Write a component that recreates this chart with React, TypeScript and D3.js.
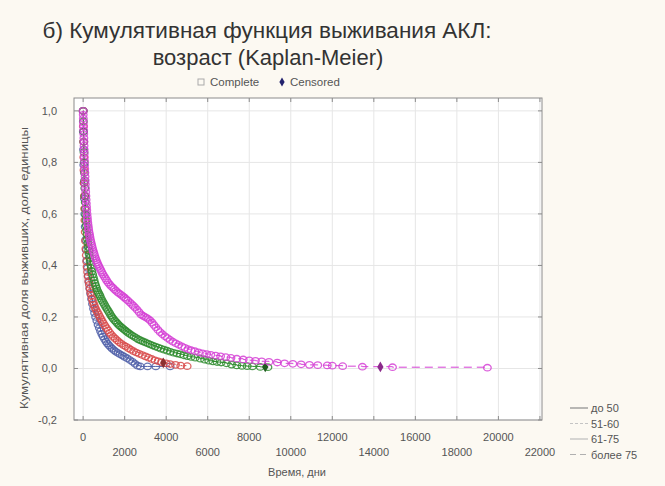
import React from "react";
import * as d3 from "d3";

const W = 665;
const H = 486;

const groupNames = ["до 50", "51-60", "61-75", "более 75"];
const groupColors = ["#4f5fa8", "#d84a4a", "#2f8c2f", "#d541d5"];
const groupDash = ["", "2,2", "", "8,5"];
const legendLineColors = ["#8a8a8a", "#c4c4c4", "#bdbdbd", "#b0b0b0"];
const legendDash = ["", "3,2", "", "6,4"];

// до 50
const timeA = [0, 10, 20, 30, 45, 60, 80, 100, 125, 150, 180, 210, 245, 280, 320, 360, 405, 450, 500, 550, 600, 660, 720, 780, 840, 900, 960, 1030, 1100, 1170, 1240, 1320, 1400, 1490, 1580, 1680, 1780, 1890, 2000, 2120, 2250, 2380, 2500, 2620, 2750, 3100, 3500, 4190];
const survA = [1.0, 0.92, 0.85, 0.79, 0.72, 0.66, 0.6, 0.55, 0.5, 0.46, 0.42, 0.39, 0.36, 0.335, 0.31, 0.29, 0.27, 0.25, 0.232, 0.215, 0.2, 0.185, 0.17, 0.157, 0.145, 0.134, 0.124, 0.114, 0.105, 0.097, 0.09, 0.083, 0.077, 0.071, 0.065, 0.06, 0.055, 0.05, 0.045, 0.04, 0.033, 0.026, 0.018, 0.011, 0.008, 0.008, 0.008, 0.008];
// 51-60
const timeB = [0, 10, 20, 30, 40, 50, 60, 72, 85, 100, 115, 132, 150, 170, 190, 215, 240, 268, 298, 330, 365, 400, 440, 480, 525, 570, 620, 680, 740, 800, 860, 920, 980, 1050, 1120, 1200, 1280, 1360, 1450, 1540, 1640, 1740, 1840, 1950, 2060, 2180, 2300, 2430, 2560, 2700, 2850, 3000, 3150, 3300, 3460, 3620, 3780, 4000, 4190, 4450, 4700, 5010];
const survB = [1.0, 0.94, 0.88, 0.82, 0.77, 0.72, 0.67, 0.62, 0.575, 0.53, 0.495, 0.465, 0.44, 0.415, 0.395, 0.375, 0.357, 0.34, 0.325, 0.31, 0.296, 0.283, 0.27, 0.258, 0.247, 0.237, 0.228, 0.219, 0.21, 0.201, 0.192, 0.183, 0.175, 0.166, 0.157, 0.148, 0.139, 0.131, 0.123, 0.116, 0.109, 0.102, 0.096, 0.09, 0.085, 0.079, 0.073, 0.067, 0.062, 0.057, 0.052, 0.047, 0.042, 0.037, 0.032, 0.028, 0.024, 0.02, 0.017, 0.014, 0.011, 0.009];
// 61-75
const timeC = [0, 10, 20, 30, 40, 50, 60, 70, 80, 90, 100, 112, 125, 140, 155, 170, 188, 206, 225, 245, 265, 288, 312, 338, 365, 395, 425, 458, 492, 528, 566, 605, 646, 690, 735, 780, 820, 870, 920, 975, 1030, 1090, 1150, 1210, 1270, 1330, 1390, 1450, 1520, 1590, 1660, 1730, 1800, 1870, 1940, 2020, 2100, 2180, 2270, 2360, 2460, 2560, 2660, 2770, 2880, 3000, 3120, 3230, 3350, 3480, 3610, 3750, 3900, 4050, 4200, 4360, 4520, 4680, 4850, 5020, 5200, 5400, 5640, 5850, 6050, 6250, 6450, 6650, 6900, 7150, 7400, 7650, 7900, 8150, 8530, 8900];
const survC = [1.0, 0.96, 0.92, 0.88, 0.84, 0.8, 0.76, 0.73, 0.7, 0.67, 0.645, 0.62, 0.597, 0.575, 0.555, 0.537, 0.52, 0.503, 0.487, 0.472, 0.458, 0.444, 0.43, 0.416, 0.403, 0.39, 0.377, 0.365, 0.353, 0.342, 0.331, 0.321, 0.311, 0.302, 0.294, 0.287, 0.28, 0.271, 0.263, 0.255, 0.247, 0.239, 0.231, 0.223, 0.215, 0.207, 0.2, 0.193, 0.186, 0.18, 0.174, 0.168, 0.163, 0.158, 0.153, 0.148, 0.143, 0.138, 0.133, 0.128, 0.123, 0.118, 0.113, 0.109, 0.105, 0.101, 0.097, 0.093, 0.089, 0.085, 0.081, 0.077, 0.073, 0.069, 0.065, 0.061, 0.058, 0.055, 0.051, 0.048, 0.045, 0.042, 0.038, 0.034, 0.03, 0.027, 0.025, 0.023, 0.02, 0.015, 0.012, 0.01, 0.009, 0.008, 0.006, 0.005];
// более 75
const timeD = [0, 5, 10, 15, 20, 25, 30, 35, 40, 45, 50, 55, 60, 66, 72, 78, 85, 92, 100, 108, 116, 125, 135, 145, 155, 165, 176, 188, 200, 212, 225, 240, 255, 270, 290, 310, 330, 350, 372, 395, 420, 445, 470, 500, 530, 560, 595, 630, 670, 710, 750, 800, 850, 900, 950, 1010, 1070, 1130, 1200, 1270, 1340, 1420, 1500, 1580, 1660, 1740, 1820, 1900, 1980, 2060, 2150, 2240, 2330, 2420, 2510, 2600, 2690, 2780, 2870, 2960, 3050, 3140, 3230, 3320, 3410, 3500, 3600, 3710, 3820, 3940, 4060, 4190, 4320, 4460, 4600, 4750, 4900, 5050, 5200, 5380, 5560, 5750, 5950, 6150, 6380, 6620, 6870, 7120, 7400, 7710, 8000, 8300, 8600, 8950, 9350, 9700, 10100, 10500, 10900, 11300, 11760, 12000, 12500, 13450, 14900, 19470];
const survD = [1.0, 0.985, 0.97, 0.955, 0.94, 0.925, 0.91, 0.895, 0.88, 0.865, 0.85, 0.835, 0.82, 0.805, 0.79, 0.775, 0.76, 0.745, 0.73, 0.715, 0.7, 0.685, 0.67, 0.655, 0.64, 0.627, 0.614, 0.6, 0.588, 0.577, 0.566, 0.556, 0.546, 0.537, 0.527, 0.518, 0.509, 0.5, 0.492, 0.484, 0.476, 0.468, 0.46, 0.452, 0.444, 0.436, 0.428, 0.42, 0.412, 0.405, 0.398, 0.39, 0.382, 0.374, 0.366, 0.358, 0.35, 0.342, 0.334, 0.327, 0.32, 0.314, 0.308, 0.302, 0.296, 0.291, 0.286, 0.281, 0.276, 0.27, 0.264, 0.257, 0.25, 0.243, 0.236, 0.228, 0.219, 0.21, 0.205, 0.201, 0.197, 0.192, 0.186, 0.178, 0.169, 0.16, 0.15, 0.141, 0.133, 0.125, 0.118, 0.111, 0.104, 0.098, 0.092, 0.086, 0.08, 0.075, 0.071, 0.067, 0.063, 0.059, 0.056, 0.053, 0.05, 0.047, 0.044, 0.041, 0.038, 0.035, 0.032, 0.03, 0.028, 0.026, 0.023, 0.02, 0.018, 0.016, 0.014, 0.013, 0.012, 0.011, 0.009, 0.007, 0.005, 0.003];

// censored observations (time, survival)
const censTimeB = [3860];
const censSurvB = [0.022];
const censTimeC = [8770];
const censSurvC = [0.006];
const censTimeD = [14315];
const censSurvD = [0.006];

const xTicks = [0, 2000, 4000, 6000, 8000, 10000, 12000, 14000, 16000, 18000, 20000, 22000];
const yTicks = [-0.2, 0.0, 0.2, 0.4, 0.6, 0.8, 1.0];

const titleLine1 = "б) Кумулятивная функция выживания АКЛ:";
const titleLine2 = "возраст (Kaplan-Meier)";
const xTitle = "Время, дни";
const yTitle = "Кумулятивная доля выживших, доли единицы";
const legendComplete = "Complete";
const legendCensored = "Censored";

const zip = (t: number[], s: number[]) => t.map((v, i) => [v, s[i]] as [number, number]);

const series = [
  { pts: zip(timeA, survA), cens: zip([], []) },
  { pts: zip(timeB, survB), cens: zip(censTimeB, censSurvB) },
  { pts: zip(timeC, survC), cens: zip(censTimeC, censSurvC) },
  { pts: zip(timeD, survD), cens: zip(censTimeD, censSurvD) },
];

const PL = 74, PR = 542, PT = 98, PB = 420;

export default function App() {
  const x = d3.scaleLinear().domain([-440, 22100]).range([PL, PR]);
  const y = d3.scaleLinear().domain([-0.2, 1.05]).range([PB, PT]);
  const line = d3
    .line<[number, number]>()
    .x((d) => x(d[0]))
    .y((d) => y(d[1]))
    .curve(d3.curveStepAfter);
  const diamond = d3.symbol().type(d3.symbolDiamond).size(34)() as string;
  const font = "'Liberation Sans', Arial, sans-serif";

  return (
    <svg
      width={W}
      height={H}
      style={{ position: "absolute", left: 0, top: 0 }}
      fontFamily={font}
    >
      <rect x={0} y={0} width={W} height={H} fill="#fcf9f2" />
      <text x={267} y={38} fontSize={22.5} fill="#333" textAnchor="middle">{titleLine1}</text>
      <text x={268} y={65} fontSize={22} fill="#333" textAnchor="middle">{titleLine2}</text>

      {/* top legend */}
      <rect x={198} y={79} width={6} height={6} fill="none" stroke="#aaa" strokeWidth={1} />
      <text x={210} y={86} fontSize={11.5} fill="#555">{legendComplete}</text>
      <path d={d3.symbol().type(d3.symbolDiamond).size(24)() as string} transform="translate(282,82)" fill="#23236e" />
      <text x={290} y={86} fontSize={11.5} fill="#555">{legendCensored}</text>

      {/* plot area */}
      <rect x={PL} y={PT} width={PR - PL} height={PB - PT} fill="#ffffff" />
      {xTicks.map((t) => (
        <line key={"gx" + t} x1={x(t)} x2={x(t)} y1={PT} y2={PB} stroke="#e6e6e6" strokeWidth={1} />
      ))}
      {yTicks.map((t) => (
        <line key={"gy" + t} x1={PL} x2={PR} y1={y(t)} y2={y(t)} stroke="#e6e6e6" strokeWidth={1} />
      ))}

      <defs>
        <clipPath id="clip">
          <rect x={PL} y={PT} width={PR - PL} height={PB - PT} />
        </clipPath>
      </defs>
      <g clipPath="url(#clip)">
        {series.map((s, i) => (
          <g key={"s" + i}>
            <path
              d={line(s.pts) as string}
              fill="none"
              stroke={groupColors[i]}
              strokeWidth={1}
              strokeDasharray={groupDash[i] || undefined}
            />
            {s.pts.map((p, j) => (
              <ellipse
                key={j}
                cx={x(p[0])}
                cy={y(p[1])}
                rx={3.8}
                ry={3.2}
                fill="none"
                stroke={groupColors[i]}
                strokeWidth={1.3}
                opacity={0.85}
              />
            ))}
            {s.cens.map((p, j) => (
              <path key={"c" + j} d={diamond} transform={`translate(${x(p[0])},${y(p[1])})`} fill={d3.color(groupColors[i])!.darker(1.2).toString()} />
            ))}
          </g>
        ))}
      </g>

      <rect x={PL} y={PT} width={PR - PL} height={PB - PT} fill="none" stroke="#8c8c8c" strokeWidth={1} />
      {xTicks.map((t) => (
        <g key={"tx" + t}>
          <line x1={x(t)} x2={x(t)} y1={PB} y2={PB - 4} stroke="#8c8c8c" />
          <line x1={x(t)} x2={x(t)} y1={PT} y2={PT + 4} stroke="#8c8c8c" />
        </g>
      ))}
      {yTicks.map((t) => (
        <g key={"ty" + t}>
          <line x1={PL} x2={PL + 4} y1={y(t)} y2={y(t)} stroke="#8c8c8c" />
          <line x1={PR} x2={PR - 4} y1={y(t)} y2={y(t)} stroke="#8c8c8c" />
        </g>
      ))}

      {xTicks.map((t, i) => (
        <text
          key={"lx" + t}
          x={x(t)}
          y={i % 2 === 0 ? 441 : 456}
          fontSize={11}
          fill="#555"
          textAnchor="middle"
        >
          {String(t)}
        </text>
      ))}
      {yTicks.map((t) => (
        <text key={"ly" + t} x={57} y={y(t) + 4} fontSize={11} fill="#555" textAnchor="end">
          {d3.format(".1f")(t).replace(".", ",").replace("−", "-")}
        </text>
      ))}

      <text x={297} y={476} fontSize={11} fill="#555" textAnchor="middle">{xTitle}</text>
      <text
        transform="translate(28,268) rotate(-90)"
        fontSize={10}
        fill="#555"
        textAnchor="middle"
        textLength={282}
        lengthAdjust="spacingAndGlyphs"
      >
        {yTitle}
      </text>

      {/* group legend */}
      {groupNames.map((g, i) => (
        <g key={"lg" + i}>
          <line
            x1={570}
            x2={588}
            y1={408 + i * 15.5}
            y2={408 + i * 15.5}
            stroke={legendLineColors[i]}
            strokeWidth={1.2}
            strokeDasharray={legendDash[i] || undefined}
          />
          <text x={591} y={412 + i * 15.5} fontSize={11} fill="#555">{g}</text>
        </g>
      ))}
    </svg>
  );
}
